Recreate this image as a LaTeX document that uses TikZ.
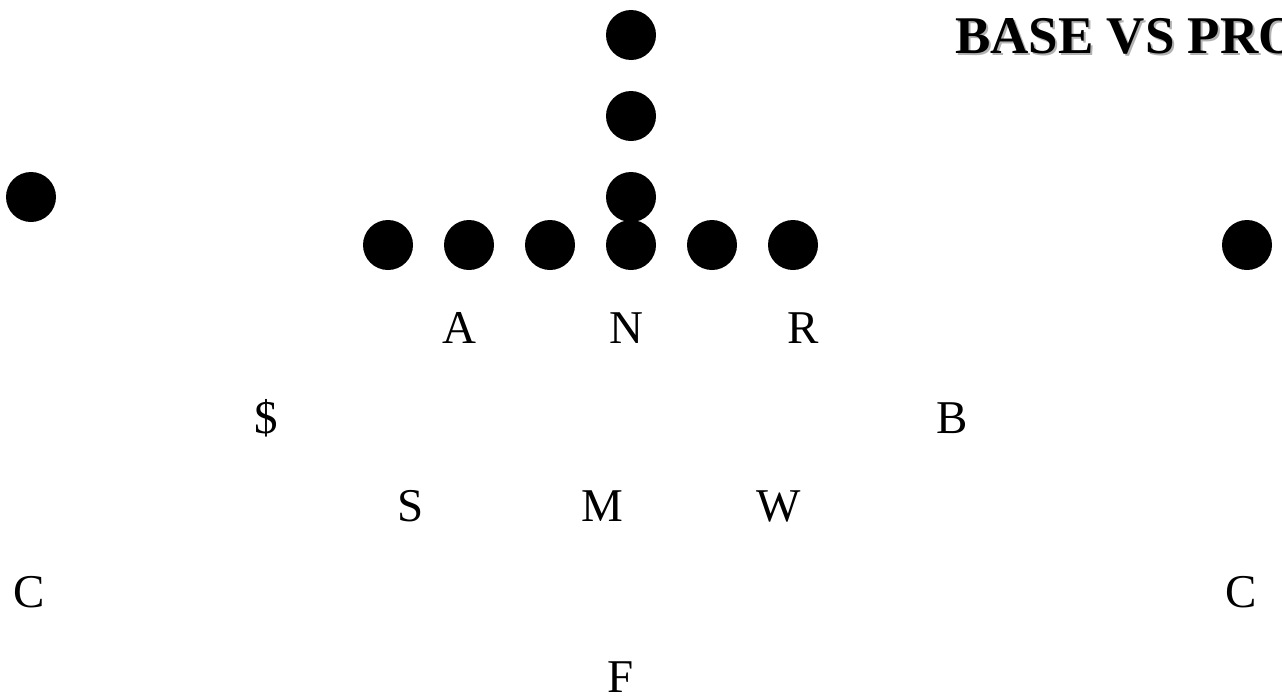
\documentclass[tikz,border=0pt]{standalone}
\usepackage{fontspec}
\setmainfont{Liberation Serif}

\begin{document}
\begin{tikzpicture}[
    x=1pt, y=-1pt,
    player/.style={circle, fill=black, minimum size=50pt, inner sep=0pt},
    defender/.style={anchor=base, inner sep=0pt,
        font=\fontsize{47}{47}\selectfont}
]
    \useasboundingbox (0,0) rectangle (1282,699);
    \clip (0,0) rectangle (1282,699);
    % title
    \node[anchor=base west, inner sep=0pt, text=black!30,
        font=\fontsize{53}{53}\selectfont\bfseries] (titleshadow) at (957,55) {BASE VS PRO};
    \node[anchor=base west, inner sep=0pt,
        font=\fontsize{53}{53}\selectfont\bfseries] (title) at (955,53) {BASE VS PRO};
    % offense
    \node[player] (wrl) at (31,197) {};
    \node[player] (o1) at (388,245) {};
    \node[player] (o2) at (469,245) {};
    \node[player] (o3) at (550,245) {};
    \node[player] (o4) at (631,245) {};
    \node[player] (o5) at (712,245) {};
    \node[player] (o6) at (793,245) {};
    \node[player] (qb) at (631,197) {};
    \node[player] (fb) at (631,116) {};
    \node[player] (tb) at (631,35) {};
    \node[player] (wrr) at (1247,245) {};
    % defense
    \node[defender] (a) at (459,343) {A};
    \node[defender] (n) at (626,343) {N};
    \node[defender] (r) at (803,343) {R};
    \node[defender] (dollar) at (266,433) {\$};
    \node[defender] (b) at (952,433) {B};
    \node[defender] (s) at (411,521) {S};
    \node[defender] (m) at (602,521) {M};
    \node[defender] (w) at (779,521) {W};
    \node[defender] (cl) at (29,607) {C};
    \node[defender] (cr) at (1241,607) {C};
    \node[defender] (f) at (621,692) {F};
\end{tikzpicture}
\end{document}
